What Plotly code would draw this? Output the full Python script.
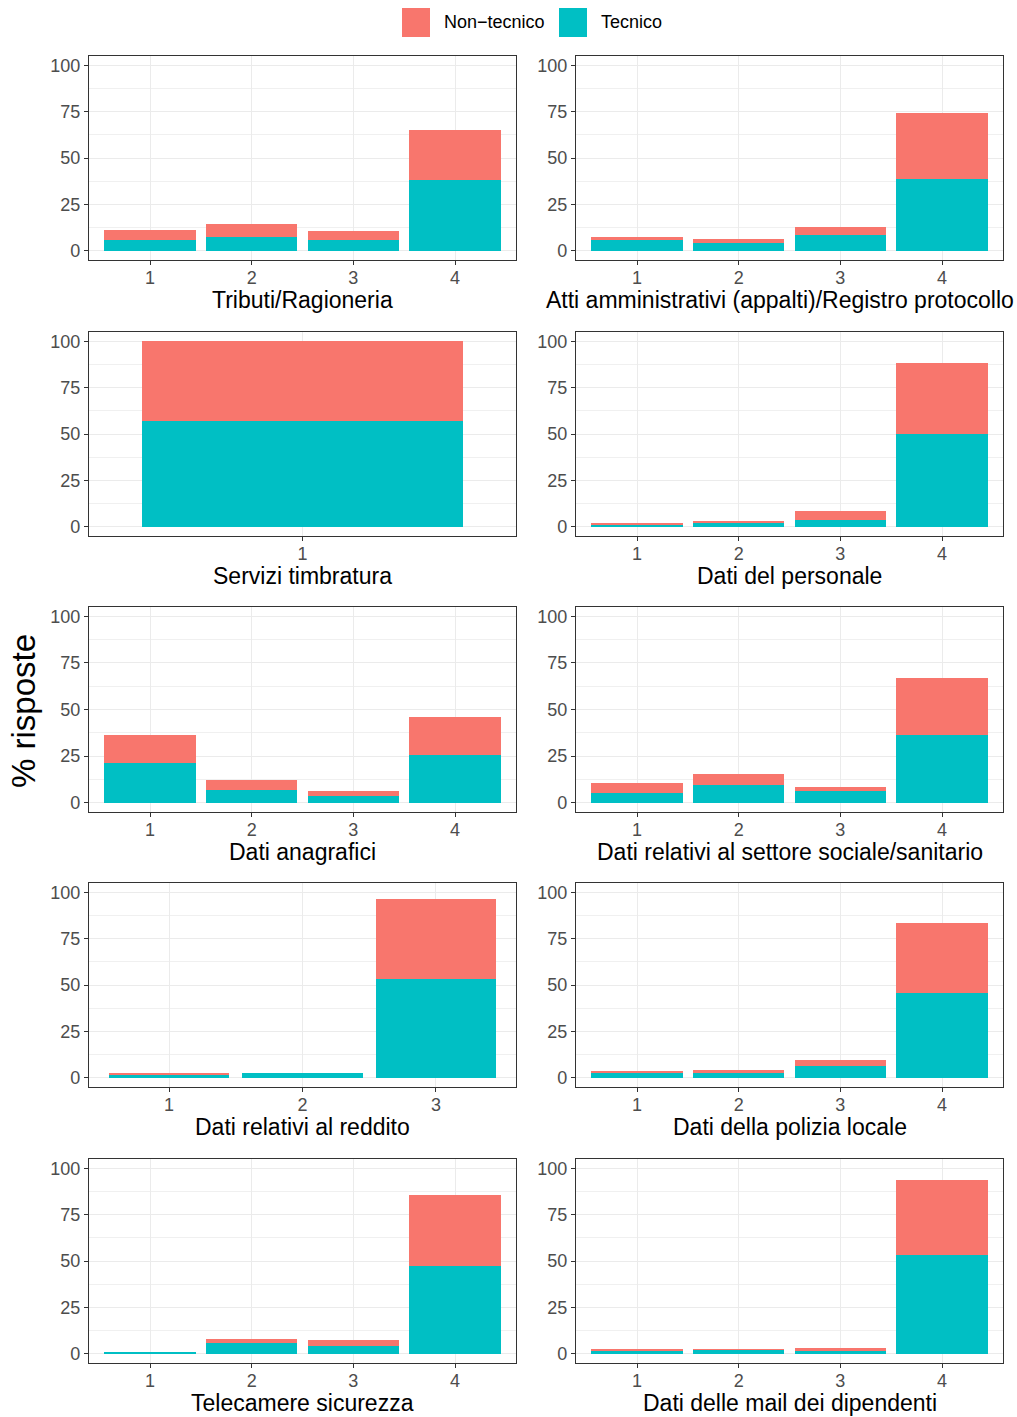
import plotly.graph_objects as go

# ---------------- data ----------------
series_names = ["Non\u2212tecnico", "Tecnico"]

titles = [
    "Tributi/Ragioneria",
    "Atti amministrativi (appalti)/Registro protocollo",
    "Servizi timbratura",
    "Dati del personale",
    "Dati anagrafici",
    "Dati relativi al settore sociale/sanitario",
    "Dati relativi al reddito",
    "Dati della polizia locale",
    "Telecamere sicurezza",
    "Dati delle mail dei dipendenti",
]

cats_tributi = [1, 2, 3, 4]
tec_tributi = [5.6, 7.6, 5.6, 38.4]
non_tributi = [5.4, 6.8, 4.9, 26.8]

cats_atti = [1, 2, 3, 4]
tec_atti = [5.6, 4.0, 8.3, 38.9]
non_atti = [2.0, 2.5, 4.7, 35.2]

cats_timbratura = [1]
tec_timbratura = [57.0]
non_timbratura = [43.0]

cats_personale = [1, 2, 3, 4]
tec_personale = [1.1, 2.5, 3.8, 50.2]
non_personale = [0.7, 0.7, 4.5, 37.9]

cats_anagrafici = [1, 2, 3, 4]
tec_anagrafici = [21.2, 6.7, 3.8, 25.7]
non_anagrafici = [15.1, 5.7, 2.3, 20.5]

cats_sociale = [1, 2, 3, 4]
tec_sociale = [5.2, 9.7, 6.1, 36.5]
non_sociale = [5.2, 5.8, 2.4, 30.2]

cats_reddito = [1, 2, 3]
tec_reddito = [1.6, 2.5, 53.0]
non_reddito = [0.9, 0.0, 43.2]

cats_polizia = [1, 2, 3, 4]
tec_polizia = [2.7, 2.7, 6.1, 45.5]
non_polizia = [0.9, 1.6, 3.6, 38.2]

cats_telecamere = [1, 2, 3, 4]
tec_telecamere = [1.1, 5.9, 3.9, 47.2]
non_telecamere = [0.0, 2.1, 3.4, 38.5]

cats_mail = [1, 2, 3, 4]
tec_mail = [1.6, 2.1, 1.6, 53.1]
non_mail = [0.9, 0.4, 1.4, 40.8]

y_ticks = [0, 25, 50, 75, 100]

panels = [
    (cats_tributi, tec_tributi, non_tributi),
    (cats_atti, tec_atti, non_atti),
    (cats_timbratura, tec_timbratura, non_timbratura),
    (cats_personale, tec_personale, non_personale),
    (cats_anagrafici, tec_anagrafici, non_anagrafici),
    (cats_sociale, tec_sociale, non_sociale),
    (cats_reddito, tec_reddito, non_reddito),
    (cats_polizia, tec_polizia, non_polizia),
    (cats_telecamere, tec_telecamere, non_telecamere),
    (cats_mail, tec_mail, non_mail),
]

# ---------------- style / layout ----------------
W, H = 1017, 1417
COL_NON = "#F8766D"
COL_TEC = "#00BFC4"
FONT = "Liberation Sans, Arial, Helvetica, sans-serif"
cols_px = [(89, 516), (576, 1003)]
rows_px = [(56, 260), (332, 536), (607, 812), (883, 1087), (1159, 1363)]
# long strip label in the top-right panel sits a little left of centre so it fits
title_shift_px = {1: -10}


def px_x(p):
    return p / W


def px_y(p):
    return 1 - p / H


fig = go.Figure()
layout = dict(
    width=W, height=H, autosize=False,
    margin=dict(l=0, r=0, t=0, b=0),
    paper_bgcolor="white", plot_bgcolor="white",
    barmode="stack", bargap=0, showlegend=False,
    font=dict(family=FONT, color="black"),
)
annotations = []
shapes = []

for i, (cats, tec, non) in enumerate(panels):
    k = i + 1
    r, c = divmod(i, 2)
    x0, x1 = cols_px[c]
    y0, y1 = rows_px[r]
    xa = "x" if k == 1 else f"x{k}"
    ya = "y" if k == 1 else f"y{k}"
    n = len(cats)
    fig.add_trace(go.Bar(x=cats, y=tec, name=series_names[1], marker=dict(color=COL_TEC, line=dict(width=0)),
                         width=0.9, xaxis=xa, yaxis=ya, hovertemplate="%{y}<extra>Tecnico</extra>"))
    fig.add_trace(go.Bar(x=cats, y=non, name=series_names[0], marker=dict(color=COL_NON, line=dict(width=0)),
                         width=0.9, xaxis=xa, yaxis=ya, hovertemplate="%{y}<extra>Non-tecnico</extra>"))
    layout[f"xaxis{'' if k == 1 else k}"] = dict(
        domain=[px_x(x0), px_x(x1)], anchor=ya,
        range=[0.4, n + 0.6], tickmode="array", tickvals=cats, ticktext=[str(v) for v in cats],
        showgrid=True, gridcolor="#EBEBEB", gridwidth=1.1,
        showline=True, mirror=True, linecolor="#333333", linewidth=1.1,
        ticks="outside", ticklen=4, tickcolor="#333333", tickwidth=1,
        ticklabelstandoff=-3,
        tickfont=dict(size=18, color="#4D4D4D", family=FONT),
        zeroline=False, fixedrange=True,
    )
    layout[f"yaxis{'' if k == 1 else k}"] = dict(
        domain=[px_y(y1), px_y(y0)], anchor=xa,
        range=[-5, 105], tickmode="array", tickvals=y_ticks, ticktext=[str(v) for v in y_ticks],
        showgrid=True, gridcolor="#EBEBEB", gridwidth=1.1,
        minor=dict(tickvals=[12.5, 37.5, 62.5, 87.5], showgrid=True, gridcolor="#F0F0F0", gridwidth=0.6, ticks=""),
        showline=True, mirror=True, linecolor="#333333", linewidth=1.1,
        ticks="outside", ticklen=4, tickcolor="#333333", tickwidth=1,
        tickfont=dict(size=18, color="#4D4D4D", family=FONT),
        zeroline=False, fixedrange=True,
    )
    annotations.append(dict(
        text=titles[i], xref="paper", yref="paper",
        x=px_x((x0 + x1) / 2 + title_shift_px.get(i, 0)), y=px_y(y1 + 40),
        xanchor="center", yanchor="middle",
        showarrow=False, font=dict(size=23, color="black", family=FONT),
    ))

# y-axis title
annotations.append(dict(
    text="% risposte", xref="paper", yref="paper", x=px_x(23), y=px_y(711),
    xanchor="center", yanchor="middle", textangle=-90, showarrow=False,
    font=dict(size=33, color="black", family=FONT),
))

# legend (top centre)
legend_items = [(series_names[0], COL_NON, 402), (series_names[1], COL_TEC, 559)]
for label, col, lx in legend_items:
    shapes.append(dict(type="rect", xref="paper", yref="paper",
                       x0=px_x(lx), x1=px_x(lx + 28), y0=px_y(37), y1=px_y(8),
                       fillcolor=col, line=dict(width=0)))
    annotations.append(dict(text=label, xref="paper", yref="paper",
                            x=px_x(lx + 40), y=px_y(22), xanchor="left", yanchor="middle",
                            showarrow=False, font=dict(size=18, color="black", family=FONT)))

layout["annotations"] = annotations
layout["shapes"] = shapes
fig.update_layout(**layout)
fig.write_html("out.html", config={"displayModeBar": False},
               post_script="document.body.style.margin='0';")
